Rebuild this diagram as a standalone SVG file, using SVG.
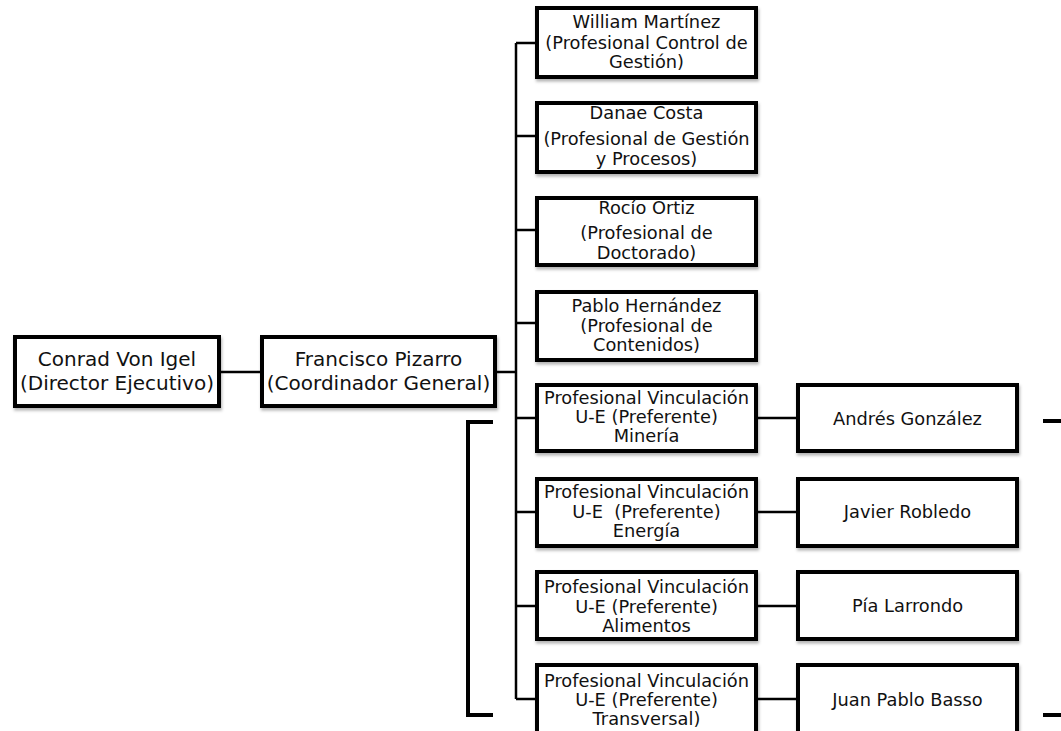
<svg xmlns="http://www.w3.org/2000/svg" width="1061" height="731" viewBox="0 0 1061 731">
<defs>
<filter id="sh" x="-10%" y="-10%" width="120%" height="130%">
<feDropShadow dx="1" dy="2.5" stdDeviation="1.5" flood-color="#000" flood-opacity="0.3"/>
</filter>
<style>
.box{fill:#fff;stroke:#000;stroke-width:4;filter:url(#sh)}
.t{font-family:"DejaVu Sans","Verdana",sans-serif;font-size:17.8px;fill:#111;text-anchor:middle}
.tb{font-family:"DejaVu Sans","Verdana",sans-serif;font-size:20px;fill:#111;text-anchor:middle}
.c{fill:none;stroke:#000;stroke-width:2.5}
.br{fill:none;stroke:#000;stroke-width:4}
</style>
</defs>
<rect width="1061" height="731" fill="#fff"/>
<g id="connectors">
<path class="c" d="M219,372 H262"/>
<path class="c" d="M495,372 H516"/>
<path class="c" d="M516,43 V699"/>
<path class="c" d="M516,43 H537 M516,136 H537 M516,230 H537 M516,323 H537 M516,418 H537 M516,512 H537 M516,606 H537 M516,699 H537"/>
<path class="c" d="M755,418 H798 M755,512 H798 M755,606 H798 M755,699 H798"/>
<path class="br" d="M493,422 H468 V715 H493"/>
<path class="br" d="M1043,421 H1061 M1043,715 H1061"/>
</g>
<g id="conrad">
<rect class="box" x="15" y="337" width="204" height="69"/>
<text class="tb" x="117" y="366">Conrad Von Igel</text>
<text class="tb" x="117" y="390">(Director Ejecutivo)</text>
</g>
<g id="francisco">
<rect class="box" x="262" y="337" width="233" height="69"/>
<text class="tb" x="378.5" y="366">Francisco Pizarro</text>
<text class="tb" x="378.5" y="390">(Coordinador General)</text>
</g>
<g id="william">
<rect class="box" x="537" y="8" width="219" height="69"/>
<text class="t" x="646.5" y="28">William Martínez</text>
<text class="t" x="646.5" y="49">(Profesional Control de</text>
<text class="t" x="646.5" y="68">Gestión)</text>
</g>
<g id="danae">
<rect class="box" x="537" y="103" width="219" height="69"/>
<text class="t" x="646.5" y="119">Danae Costa</text>
<text class="t" x="646.5" y="145">(Profesional de Gestión</text>
<text class="t" x="646.5" y="165">y Procesos)</text>
</g>
<g id="rocio">
<rect class="box" x="537" y="198" width="219" height="67"/>
<text class="t" x="646.5" y="214">Rocío Ortiz</text>
<text class="t" x="646.5" y="239">(Profesional de</text>
<text class="t" x="646.5" y="259">Doctorado)</text>
</g>
<g id="pablo">
<rect class="box" x="537" y="292" width="219" height="68"/>
<text class="t" x="646.5" y="312">Pablo Hernández</text>
<text class="t" x="646.5" y="332">(Profesional de</text>
<text class="t" x="646.5" y="351">Contenidos)</text>
</g>
<g id="mineria">
<rect class="box" x="537" y="385" width="219" height="66"/>
<text class="t" x="646.5" y="404">Profesional Vinculación</text>
<text class="t" x="646.5" y="423">U-E (Preferente)</text>
<text class="t" x="646.5" y="442">Minería</text>
</g>
<g id="energia">
<rect class="box" x="537" y="479" width="219" height="67"/>
<text class="t" x="646.5" y="498">Profesional Vinculación</text>
<text class="t" x="646.5" y="518" xml:space="preserve">U-E  (Preferente)</text>
<text class="t" x="646.5" y="537">Energía</text>
</g>
<g id="alimentos">
<rect class="box" x="537" y="572" width="219" height="67"/>
<text class="t" x="646.5" y="593">Profesional Vinculación</text>
<text class="t" x="646.5" y="613">U-E (Preferente)</text>
<text class="t" x="646.5" y="632">Alimentos</text>
</g>
<g id="transversal">
<rect class="box" x="537" y="665" width="219" height="70"/>
<text class="t" x="646.5" y="687">Profesional Vinculación</text>
<text class="t" x="646.5" y="706">U-E (Preferente)</text>
<text class="t" x="646.5" y="725">Transversal)</text>
</g>
<g id="andres">
<rect class="box" x="798" y="385" width="219" height="66"/>
<text class="t" x="907.5" y="425">Andrés González</text>
</g>
<g id="javier">
<rect class="box" x="798" y="479" width="219" height="67"/>
<text class="t" x="907.5" y="518">Javier Robledo</text>
</g>
<g id="pia">
<rect class="box" x="798" y="572" width="219" height="67"/>
<text class="t" x="907.5" y="612">Pía Larrondo</text>
</g>
<g id="juan">
<rect class="box" x="798" y="665" width="219" height="70"/>
<text class="t" x="907.5" y="706">Juan Pablo Basso</text>
</g>
</svg>
